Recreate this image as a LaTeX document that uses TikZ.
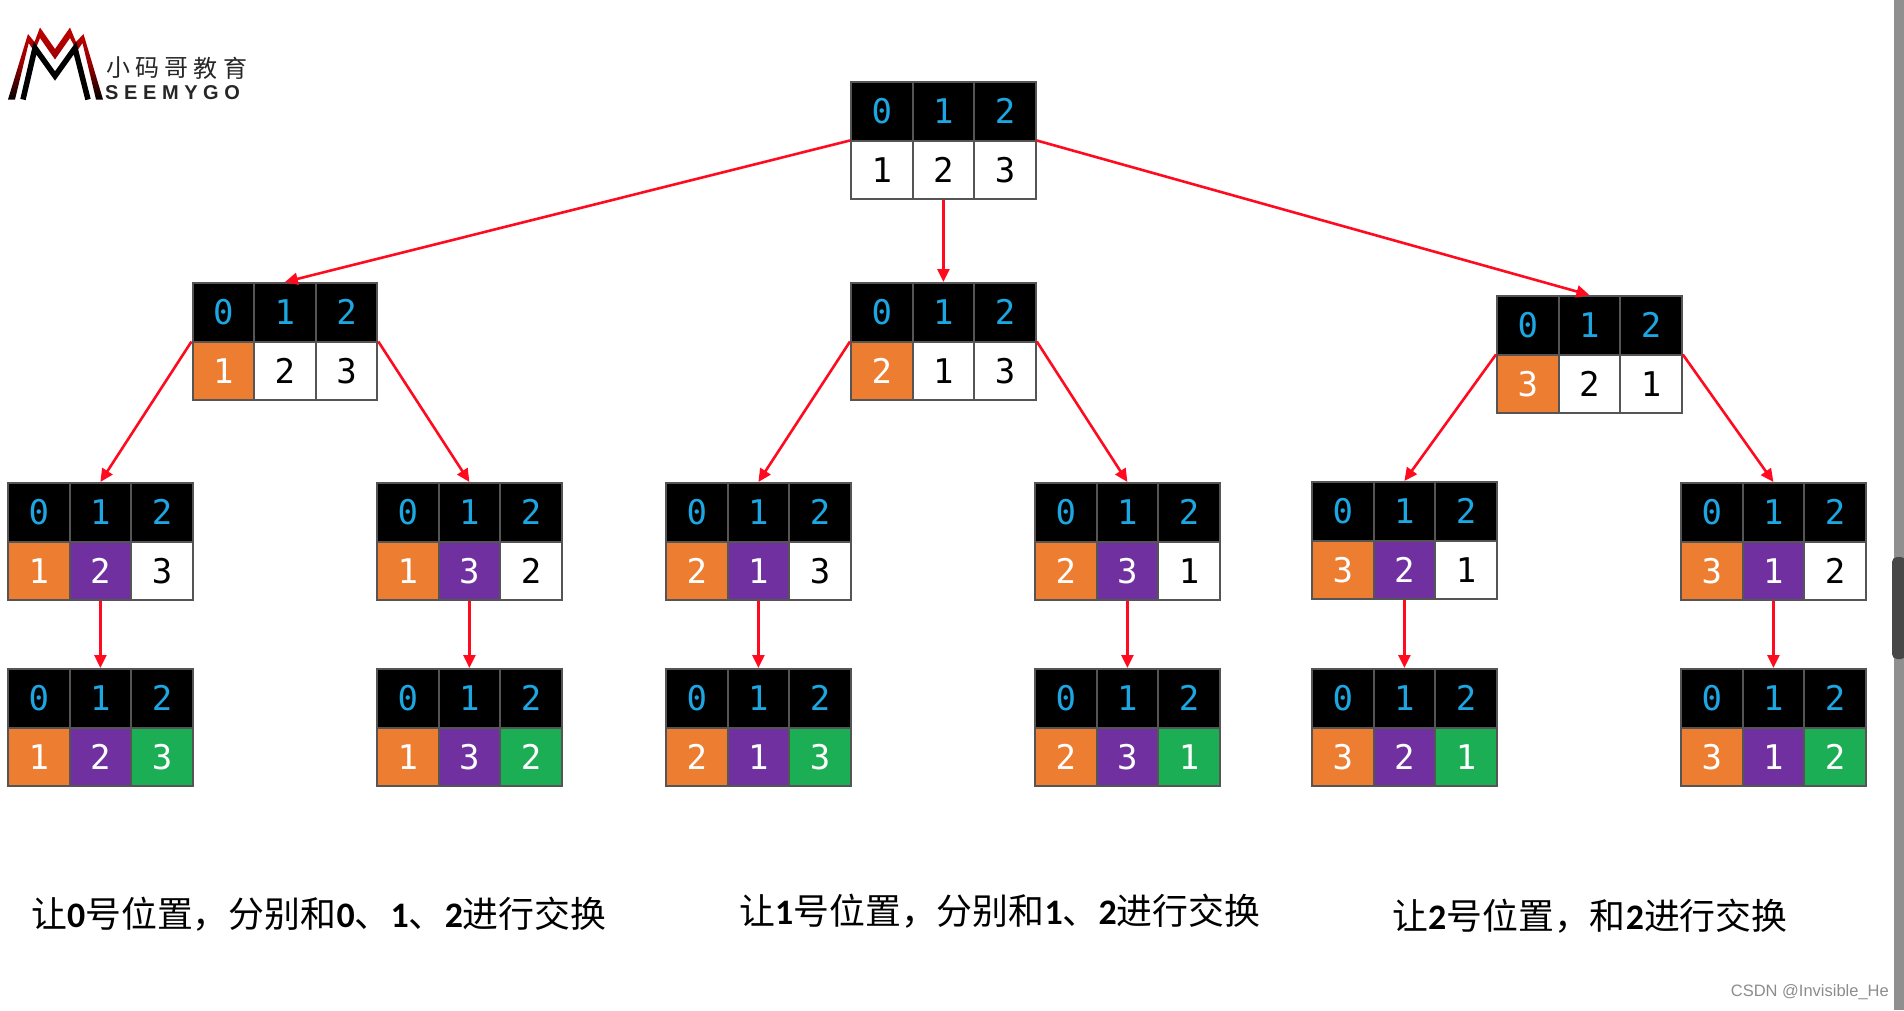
\documentclass[tikz,border=0pt]{standalone}
\usepackage{fontspec}
\usetikzlibrary{arrows.meta}
\newfontfamily\cjk{Noto Sans CJK SC}
\newfontfamily\carl{Carlito}
\newfontfamily\monod{DejaVu Sans Mono}
\newfontfamily\logof[LetterSpace=28]{Liberation Sans}
\newfontfamily\markf{Liberation Sans}
\definecolor{cborder}{HTML}{555555}
\definecolor{chead}{HTML}{1CA7E2}
\definecolor{corange}{HTML}{ED7D31}
\definecolor{cpurple}{HTML}{7030A0}
\definecolor{cgreen}{HTML}{1BAE55}
\definecolor{carrow}{HTML}{FF0A1E}
\newcommand{\dg}[1]{{\carl\bfseries #1}}
\tikzset{
  cellbase/.style={draw=cborder,line width=2pt,minimum width=61.6pt,minimum height=58.5pt,inner sep=0pt,outer sep=0pt,text height=25pt,text depth=0pt,font=\monod\fontsize{34}{34}\selectfont},
  ch/.style={cellbase,fill=black,text=chead},
  cw/.style={cellbase,fill=white,text=black},
  co/.style={cellbase,fill=corange,text=white},
  cp/.style={cellbase,fill=cpurple,text=white},
  cg/.style={cellbase,fill=cgreen,text=white},
  tablebox/.style={draw=cborder,line width=2pt,minimum width=184.8pt,minimum height=117pt,inner sep=0pt},
  link/.style={draw=carrow,line width=2.6pt,-{Triangle[length=13pt,width=12pt]}},
  caption/.style={font=\cjk\fontsize{35.9}{36}\selectfont,text=black,inner sep=0pt,anchor=west},
  logocn/.style={font=\cjk\fontsize{24}{24}\selectfont,text=black!85,inner sep=0pt},
  logoen/.style={font=\logof\bfseries\fontsize{20}{20}\selectfont,text=black!85,inner sep=0pt,anchor=west},
  wm/.style={font=\markf\fontsize{16.5}{16.5}\selectfont,text=black!45,inner sep=0pt,anchor=east}
}
\newcommand{\tbl}[9]{%
  \node[ch] (#1-h0) at ({#2+30.8},{#3+29.25}) {0};
  \node[ch] (#1-h1) at ({#2+92.4},{#3+29.25}) {1};
  \node[ch] (#1-h2) at ({#2+154},{#3+29.25}) {2};
  \node[#4] (#1-v0) at ({#2+30.8},{#3+87.75}) {#5};
  \node[#6] (#1-v1) at ({#2+92.4},{#3+87.75}) {#7};
  \node[#8] (#1-v2) at ({#2+154},{#3+87.75}) {#9};
  \node[tablebox] (#1) at ({#2+92.4},{#3+58.5}) {};
}
\begin{document}
\begin{tikzpicture}[x=1pt,y=-1pt]
\useasboundingbox (0,0) rectangle (1904,1010);
% scrollbar
\fill[black!44] (1894,0) rectangle (1904,1010);
\fill[black!72,rounded corners=5pt] (1892,557) rectangle (1906,659);
% logo
\shade[top color=red!75!black,bottom color=black,middle color=red!60!black]
  (8,99.5) -- (28,34) -- (34.5,42) -- (40,27.5) -- (55,49) -- (70,27.5) -- (76,42) -- (83.5,34) -- (103,99.5)
  -- (96,99.5) -- (82.5,43) -- (77,51) -- (70,38) -- (55,59.5) -- (40,38) -- (34.5,52) -- (28.7,43) -- (15,99.5) -- cycle;
\draw[black,line width=5.5pt,line join=miter] (23,99.5) -- (35,48) -- (55,76) -- (75,48) -- (88,99.5);
\node[logocn] (lg1) at (118,68) {小};
\node[logocn] (lg2) at (147,68) {码};
\node[logocn] (lg3) at (176,68) {哥};
\node[logocn] (lg4) at (205,68) {教};
\node[logocn] (lg5) at (235,68) {育};
\node[logoen] (lg6) at (105,93) {SEEMYGO};
% tables
\tbl{r}{851}{82}{cw}{1}{cw}{2}{cw}{3}
\tbl{a}{192.5}{283}{co}{1}{cw}{2}{cw}{3}
\tbl{b}{851}{283}{co}{2}{cw}{1}{cw}{3}
\tbl{c}{1497}{296}{co}{3}{cw}{2}{cw}{1}
\tbl{a1}{8}{483}{co}{1}{cp}{2}{cw}{3}
\tbl{a2}{377}{483}{co}{1}{cp}{3}{cw}{2}
\tbl{b1}{666}{483}{co}{2}{cp}{1}{cw}{3}
\tbl{b2}{1035}{483}{co}{2}{cp}{3}{cw}{1}
\tbl{c1}{1312}{482}{co}{3}{cp}{2}{cw}{1}
\tbl{c2}{1681}{483}{co}{3}{cp}{1}{cw}{2}
\tbl{a1x}{8}{669}{co}{1}{cp}{2}{cg}{3}
\tbl{a2x}{377}{669}{co}{1}{cp}{3}{cg}{2}
\tbl{b1x}{666}{669}{co}{2}{cp}{1}{cg}{3}
\tbl{b2x}{1035}{669}{co}{2}{cp}{3}{cg}{1}
\tbl{c1x}{1312}{669}{co}{3}{cp}{2}{cg}{1}
\tbl{c2x}{1681}{669}{co}{3}{cp}{1}{cg}{2}
% connectors
\draw[link] (r.west) -- (a.north);
\draw[link] (r.south) -- (b.north);
\draw[link] (r.east) -- (c.north);
\draw[link] (a.west) -- (a1.north);
\draw[link] (a.east) -- (a2.north);
\draw[link] (b.west) -- (b1.north);
\draw[link] (b.east) -- (b2.north);
\draw[link] (c.west) -- (c1.north);
\draw[link] (c.east) -- (c2.north);
\draw[link] (a1.south) -- (a1x.north);
\draw[link] (a2.south) -- (a2x.north);
\draw[link] (b1.south) -- (b1x.north);
\draw[link] (b2.south) -- (b2x.north);
\draw[link] (c1.south) -- (c1x.north);
\draw[link] (c2.south) -- (c2x.north);
% captions
\node[caption] (t1) at (31,914) {让\dg{0}号位置，分别和\dg{0}、\dg{1}、\dg{2}进行交换};
\node[caption] (t2) at (739,911) {让\dg{1}号位置，分别和\dg{1}、\dg{2}进行交换};
\node[caption] (t3) at (1392,916) {让\dg{2}号位置，和\dg{2}进行交换};
\node[wm] (wm) at (1889,992) {CSDN @Invisible\_He};
\end{tikzpicture}
\end{document}
